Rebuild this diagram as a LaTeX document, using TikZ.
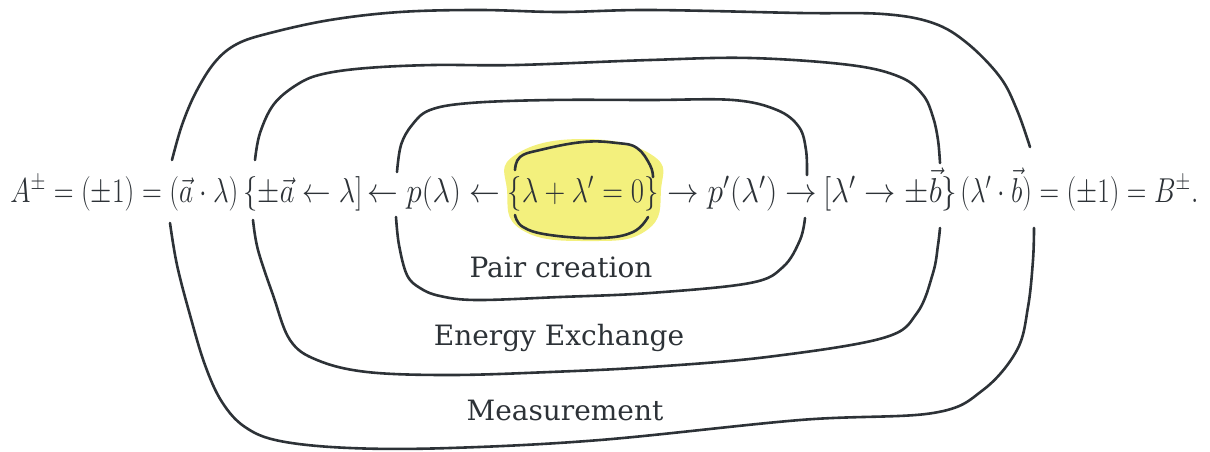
\documentclass[tikz,border=0pt]{standalone}
\usepackage{graphicx}
\usepackage{fontspec}
\newfontfamily\labelfont{DejaVu Serif}
\usetikzlibrary{positioning}
\definecolor{ink}{RGB}{45,50,55}
\definecolor{blob}{RGB}{243,240,125}

% formula piece squeezed to the width it has in the sketch
\newcommand{\eqpart}[2]{\resizebox{#1}{\height}{$#2$}}

\begin{document}
\begin{tikzpicture}[
    x=0.5pt, y=-0.5pt,               % one unit = one pixel of the sketch
    ring/.style={draw=ink, line width=1.3pt, line cap=round, line join=round},
    eq/.style={anchor=base west, inner sep=0pt, text=ink,
      font=\fontsize{17}{21}\selectfont},
    tag/.style={inner sep=0pt, text=ink, font=\labelfont\fontsize{14}{17}\selectfont},
  ]
  \useasboundingbox (0,0) rectangle (1210,451);

  % Yellow source blob
  \fill[blob] plot[smooth cycle, tension=0.8] coordinates {
    (507,190) (515,155) (583,139) (652,155) (661,190) (647,230) (590,241) (522,230)};

  % Formula, split where the rings cross it
  \node[eq] (lhs)  at (10,202)  {\eqpart{114pt}{A^{\pm}=(\pm1)=(\vec a\cdot\lambda)}};
  \node[eq] (accA) at (243,202) {\eqpart{59.5pt}{\{\pm\vec a\leftarrow\lambda]}};
  \node[eq] (arrL) at (367,202) {\eqpart{66.5pt}{\leftarrow p(\lambda)\leftarrow}};
  \node[eq] (src)  at (507,202) {\eqpart{75.5pt}{\{\lambda+\lambda'=0\}}};
  \node[eq] (arrR) at (667,202) {\eqpart{75pt}{\rightarrow p'(\lambda')\rightarrow}};
  \node[eq] (accB) at (823,202) {\eqpart{67pt}{[\lambda'\rightarrow\pm\vec b\}}};
  \node[eq] (rhs)  at (960,202) {\eqpart{119pt}{(\lambda'\cdot\vec b)=(\pm1)=B^{\pm}.}};

  % Blob outline (top and bottom)
  \draw[ring] plot[smooth, tension=0.7] coordinates {
    (515,170) (520,157) (540,150) (583,142) (617,143) (637,148) (650,165) (653,177)};
  \draw[ring] plot[smooth, tension=0.7] coordinates {
    (515,215) (523,227) (550,235) (600,238) (633,232) (648,217)};

  % Inner ring: pair creation
  \draw[ring] plot[smooth, tension=0.6] coordinates {
    (397,172) (401,145) (412,125) (430,110) (470,103) (550,100) (650,100)
    (733,100) (777,110) (799,127) (806,150) (807,175)};
  \draw[ring] plot[smooth, tension=0.6] coordinates {
    (396,217) (399,245) (407,275) (420,288) (440,296) (477,300) (560,297)
    (650,293) (750,283) (783,267) (800,240) (805,218)};

  % Middle ring: energy exchange
  \draw[ring] plot[smooth, tension=0.6] coordinates {
    (255,160) (260,133) (274,104) (298,84) (323,74) (367,68) (433,65)
    (517,65) (650,60) (750,58) (850,65) (900,77) (923,95) (933,117) (938,140) (940,163)};
  \draw[ring] plot[smooth, tension=0.6] coordinates {
    (253,220) (258,250) (273,295) (290,340) (317,360) (367,372) (450,375)
    (550,372) (650,367) (767,357) (883,338) (917,313) (933,273) (938,245) (940,228)};

  % Outer ring: measurement
  \draw[ring] plot[smooth, tension=0.6] coordinates {
    (172,160) (182,125) (196,92) (215,62) (237,44) (270,33) (330,20) (400,12)
    (480,10) (560,12) (650,10) (800,13) (883,14) (933,23) (967,43) (1000,77)
    (1017,110) (1030,147)};
  \draw[ring] plot[smooth, tension=0.6] coordinates {
    (170,223) (177,265) (190,315) (205,365) (222,402) (245,427) (280,441)
    (350,448) (450,448) (600,440) (800,420) (933,413) (983,390) (1017,350)
    (1028,307) (1033,260) (1034,228)};

  % Ring labels
  \node[tag] (pairlbl) at (561,267) {Pair creation};
  \node[tag] (exchlbl) at (559,338) {Energy Exchange};
  \node[tag] (measlbl) at (565,410) {Measurement};
\end{tikzpicture}
\end{document}
